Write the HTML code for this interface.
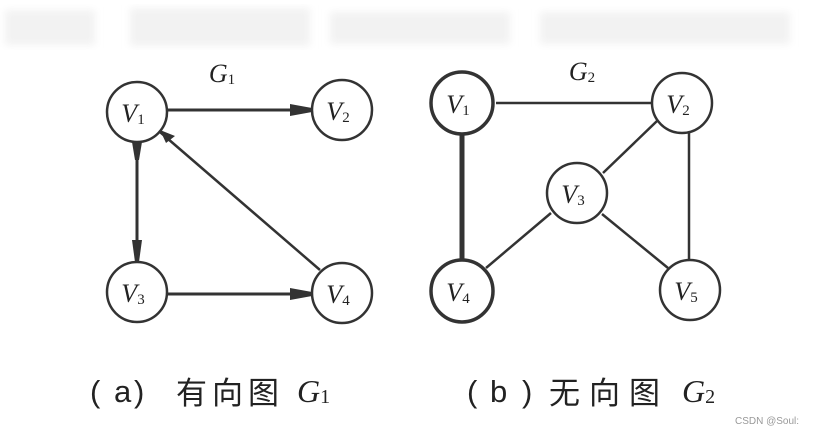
<!DOCTYPE html>
<html><head><meta charset="utf-8"><style>
html,body{margin:0;padding:0;background:#fff;}
body{width:814px;height:433px;overflow:hidden;position:relative;}
svg{position:absolute;left:0;top:0;}
</style></head><body>
<svg width="814" height="433" viewBox="0 0 814 433" xmlns="http://www.w3.org/2000/svg">
<defs><filter id="b"><feGaussianBlur stdDeviation="4"/></filter></defs>
<g filter="url(#b)" fill="#f2f2f2">
<rect x="5" y="10" width="90" height="35"/>
<rect x="130" y="8" width="180" height="38"/>
<rect x="330" y="12" width="180" height="32"/>
<rect x="540" y="12" width="250" height="32"/>
</g>
<g stroke="#333" fill="none" stroke-width="2.5">
<line x1="167" y1="110" x2="312" y2="110" stroke-width="3"/>
<path d="M290 104 L312 108 L312 112 L290 116 Z" fill="#333" stroke="none"/>
<line x1="137" y1="142" x2="137" y2="262" stroke-width="3"/>
<path d="M132 240 L135 262 L139 262 L142 240 Z" fill="#333" stroke="none"/>
<path d="M132 142 L135 160 L139 160 L142 142 Z" fill="#333" stroke="none"/>
<line x1="160" y1="132" x2="320" y2="270"/>
<path d="M175 136 L160 130 L166 143 Z" fill="#333" stroke="none"/>
<line x1="167" y1="294" x2="312" y2="294" stroke-width="3"/>
<path d="M290 288 L312 292 L312 296 L290 300 Z" fill="#333" stroke="none"/>
<line x1="496" y1="103" x2="652" y2="103"/>
<line x1="462" y1="134" x2="462" y2="260" stroke-width="5"/>
<line x1="657" y1="121" x2="603" y2="173"/>
<line x1="689" y1="133" x2="689" y2="262"/>
<line x1="551" y1="213" x2="486" y2="268"/>
<line x1="602" y1="214" x2="668" y2="268"/>
</g>
<g stroke="#333" fill="#fff" stroke-width="2.5">
<circle cx="137" cy="112" r="30"/>
<circle cx="342" cy="110" r="30"/>
<circle cx="137" cy="292" r="30"/>
<circle cx="342" cy="293" r="30"/>
<circle cx="462" cy="103" r="31" stroke-width="3.5"/>
<circle cx="682" cy="103" r="30"/>
<circle cx="577" cy="193" r="30"/>
<circle cx="462" cy="291" r="31" stroke-width="3.5"/>
<circle cx="690" cy="290" r="30"/>
</g>
<g font-family="Liberation Serif, serif" font-style="italic" fill="#222" font-size="26" text-anchor="middle">
<text x="133" y="122">V<tspan font-size="15" font-style="normal" dy="2">1</tspan></text>
<text x="338" y="120">V<tspan font-size="15" font-style="normal" dy="2">2</tspan></text>
<text x="133" y="302">V<tspan font-size="15" font-style="normal" dy="2">3</tspan></text>
<text x="338" y="303">V<tspan font-size="15" font-style="normal" dy="2">4</tspan></text>
<text x="458" y="113">V<tspan font-size="15" font-style="normal" dy="2">1</tspan></text>
<text x="678" y="113">V<tspan font-size="15" font-style="normal" dy="2">2</tspan></text>
<text x="573" y="203">V<tspan font-size="15" font-style="normal" dy="2">3</tspan></text>
<text x="458" y="301">V<tspan font-size="15" font-style="normal" dy="2">4</tspan></text>
<text x="686" y="300">V<tspan font-size="15" font-style="normal" dy="2">5</tspan></text>
<text x="222" y="82">G<tspan font-size="15" font-style="normal" dy="2">1</tspan></text>
<text x="582" y="80">G<tspan font-size="15" font-style="normal" dy="2">2</tspan></text>
</g>
<g font-family="Liberation Sans, 'Noto Sans CJK SC', sans-serif" font-size="31" fill="#222">
<text x="90" y="402">(</text><text x="114" y="402">a</text><text x="134" y="402">)</text>
<text x="176" y="404">有</text><text x="212" y="404">向</text><text x="248" y="404">图</text>
<text x="467" y="402">(</text><text x="490" y="402">b</text><text x="522" y="402">)</text>
<text x="549" y="404">无</text><text x="589" y="404">向</text><text x="629" y="404">图</text>
</g>
<g font-family="Liberation Serif, serif" font-style="italic" font-size="32" fill="#222">
<text x="297" y="402">G<tspan font-size="20" font-style="normal" dy="1">1</tspan></text>
<text x="682" y="402">G<tspan font-size="20" font-style="normal" dy="1">2</tspan></text>
</g>
<text x="735" y="424" font-family="Liberation Sans, sans-serif" font-size="10" fill="#999">CSDN @Soul:</text>
</svg>
</body></html>
